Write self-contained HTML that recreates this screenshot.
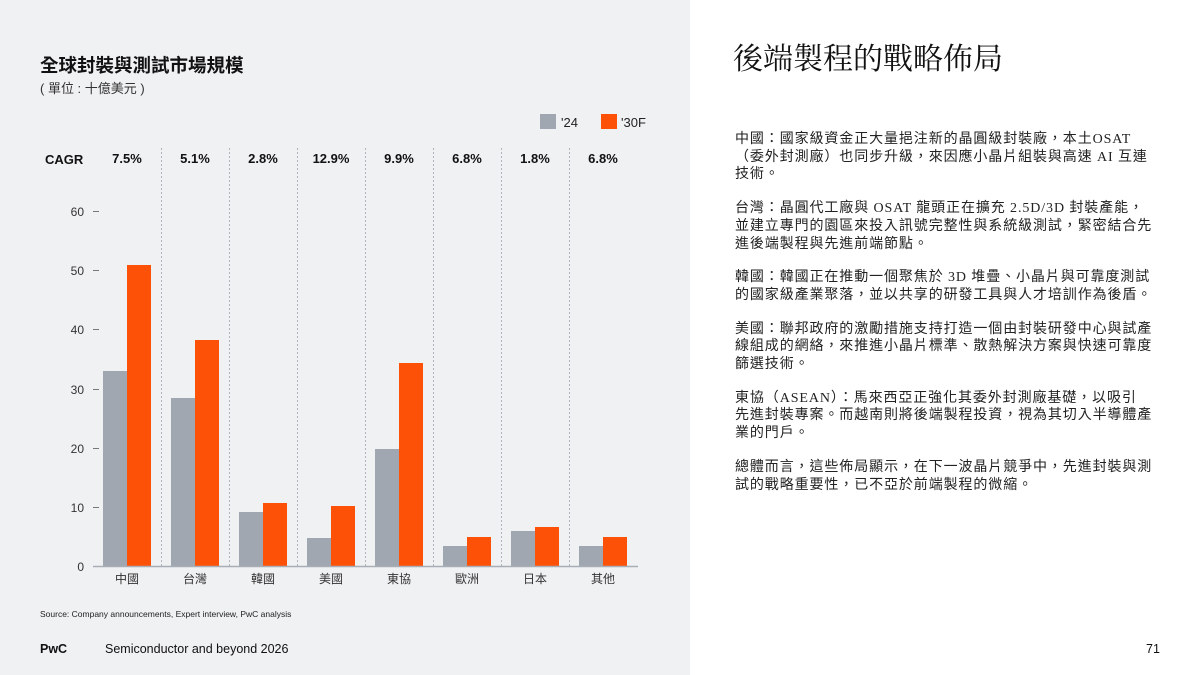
<!DOCTYPE html>
<html><head><meta charset="utf-8"><style>
body{margin:0;width:1200px;height:675px;background:#fff;position:relative;overflow:hidden;font-family:"Liberation Sans","Noto Sans CJK TC",sans-serif;}
#panel{position:absolute;left:0;top:0;width:690px;height:675px;background:#f0f1f3;}
.t{position:absolute;white-space:nowrap;}
#right{position:absolute;left:735px;top:131px;font-family:"Liberation Serif","Noto Sans CJK TC",sans-serif;font-size:14px;letter-spacing:0.9px;line-height:17.7px;color:#222;}
#right p{margin:0 0 16px 0;white-space:nowrap;}
</style></head><body>
<div id="panel"></div>
<svg style="position:absolute;left:0;top:0" width="690" height="675" font-family="Liberation Sans, Noto Sans CJK TC, sans-serif">
<text x="40" y="72" font-size="18.5" font-weight="bold" fill="#111">全球封裝與測試市場規模</text>
<text x="40" y="93" font-size="13" fill="#333">( 單位 : 十億美元 )</text>
<rect x="540" y="114" width="16" height="15" fill="#a0a7b1"/><text x="561" y="127" font-size="13" fill="#222">'24</text>
<rect x="601" y="114" width="16" height="15" fill="#fd5108"/><text x="621" y="127" font-size="13" fill="#222">'30F</text>
<text x="45" y="164" font-size="13" font-weight="bold" fill="#111">CAGR</text>
<g font-size="13" font-weight="bold" fill="#111" text-anchor="middle">
<text x="127" y="163">7.5%</text><text x="195" y="163">5.1%</text><text x="263" y="163">2.8%</text><text x="331" y="163">12.9%</text><text x="399" y="163">9.9%</text><text x="467" y="163">6.8%</text><text x="535" y="163">1.8%</text><text x="603" y="163">6.8%</text>
</g>
<g stroke="#b0b5bd" stroke-dasharray="2,2" stroke-width="1">
<line x1="161.5" y1="148" x2="161.5" y2="566"/><line x1="229.5" y1="148" x2="229.5" y2="566"/><line x1="297.5" y1="148" x2="297.5" y2="566"/><line x1="365.5" y1="148" x2="365.5" y2="566"/><line x1="433.5" y1="148" x2="433.5" y2="566"/><line x1="501.5" y1="148" x2="501.5" y2="566"/><line x1="569.5" y1="148" x2="569.5" y2="566"/>
</g>
<g font-size="12" fill="#333" text-anchor="end">
<text x="84" y="216">60</text><text x="84" y="275">50</text><text x="84" y="334">40</text><text x="84" y="394">30</text><text x="84" y="453">20</text><text x="84" y="512">10</text><text x="84" y="571">0</text>
</g>
<g stroke="#777" stroke-width="1">
<line x1="93" y1="211.5" x2="99" y2="211.5"/><line x1="93" y1="270.5" x2="99" y2="270.5"/><line x1="93" y1="329.5" x2="99" y2="329.5"/><line x1="93" y1="389.5" x2="99" y2="389.5"/><line x1="93" y1="448.5" x2="99" y2="448.5"/><line x1="93" y1="507.5" x2="99" y2="507.5"/>
</g>
<g fill="#a0a7b1">
<rect x="103" y="371" width="24" height="195"/><rect x="171" y="398" width="24" height="168"/><rect x="239" y="512" width="24" height="54"/><rect x="307" y="538" width="24" height="28"/><rect x="375" y="449" width="24" height="117"/><rect x="443" y="546" width="24" height="20"/><rect x="511" y="531" width="24" height="35"/><rect x="579" y="546" width="24" height="20"/>
</g>
<g fill="#fd5108">
<rect x="127" y="265" width="24" height="301"/><rect x="195" y="340" width="24" height="226"/><rect x="263" y="503" width="24" height="63"/><rect x="331" y="506" width="24" height="60"/><rect x="399" y="363" width="24" height="203"/><rect x="467" y="537" width="24" height="29"/><rect x="535" y="527" width="24" height="39"/><rect x="603" y="537" width="24" height="29"/>
</g>
<line x1="93" y1="566.5" x2="638" y2="566.5" stroke="#a8aeb6" stroke-width="1.5"/>
<g font-size="12" fill="#333" text-anchor="middle">
<text x="127" y="583">中國</text><text x="195" y="583">台灣</text><text x="263" y="583">韓國</text><text x="331" y="583">美國</text><text x="399" y="583">東協</text><text x="467" y="583">歐洲</text><text x="535" y="583">日本</text><text x="603" y="583">其他</text>
</g>
<text x="40" y="617" font-size="8.5" fill="#222">Source: Company announcements, Expert interview, PwC analysis</text>
<text x="40" y="653" font-size="12.5" font-weight="bold" fill="#111">PwC</text>
<text x="105" y="653" font-size="12.5" fill="#111">Semiconductor and beyond 2026</text>
</svg>
<div class="t" style="left:733px;top:34px;font-family:'Liberation Serif','Noto Serif CJK SC',serif;font-size:30px;color:#111;">後端製程的戰略佈局</div>
<div id="right">
<p>中國：國家級資金正大量挹注新的晶圓級封裝廠，本土OSAT<br>（委外封測廠）也同步升級，來因應小晶片組裝與高速 AI 互連<br>技術。</p>
<p>台灣：晶圓代工廠與 OSAT 龍頭正在擴充 2.5D/3D 封裝產能，<br>並建立專門的園區來投入訊號完整性與系統級測試，緊密結合先<br>進後端製程與先進前端節點。</p>
<p>韓國：韓國正在推動一個聚焦於 3D 堆疊、小晶片與可靠度測試<br>的國家級產業聚落，並以共享的研發工具與人才培訓作為後盾。</p>
<p>美國：聯邦政府的激勵措施支持打造一個由封裝研發中心與試產<br>線組成的網絡，來推進小晶片標準、散熱解決方案與快速可靠度<br>篩選技術。</p>
<p>東協（ASEAN）：馬來西亞正強化其委外封測廠基礎，以吸引<br>先進封裝專案。而越南則將後端製程投資，視為其切入半導體產<br>業的門戶。</p>
<p>總體而言，這些佈局顯示，在下一波晶片競爭中，先進封裝與測<br>試的戰略重要性，已不亞於前端製程的微縮。</p>
</div>
<div class="t" style="left:1146px;top:642px;font-size:12.5px;color:#111;">71</div>
</body></html>
